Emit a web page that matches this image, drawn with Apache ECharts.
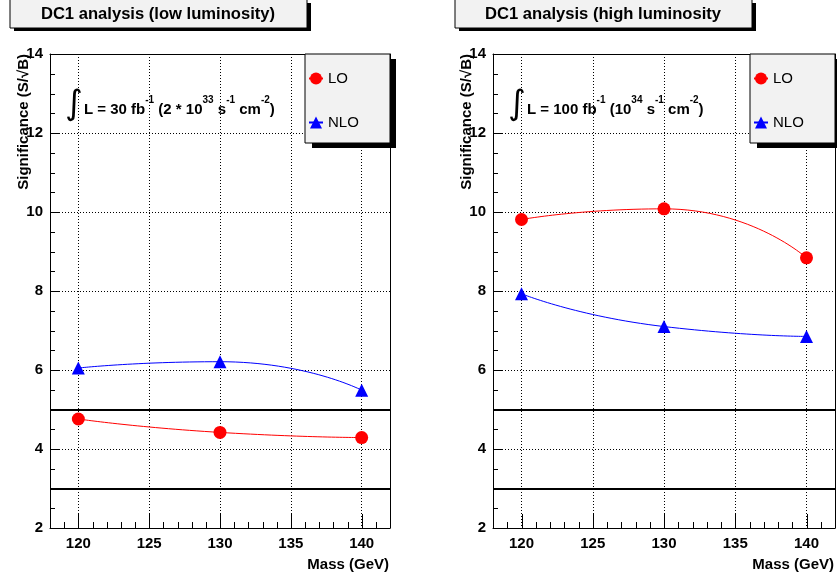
<!DOCTYPE html>
<html>
<head>
<meta charset="utf-8">
<title>DC1 analysis</title>
<script src="https://cdn.jsdelivr.net/npm/echarts@6/dist/echarts.min.js"></script>
<style>
html, body { margin: 0; padding: 0; background: #fff; }
#main { width: 837px; height: 578px; }
</style>
</head>
<body>
<div id="main"></div>
<script type="text/javascript">
// data
var masses = [120, 130, 140];
var loLow = [4.76, 4.42, 4.29];
var nloLow = [6.05, 6.21, 5.49];
var loHigh = [9.81, 10.08, 8.84];
var nloHigh = [7.93, 7.10, 6.85];
var thresholds = [5, 3];
var massTicks = [120, 125, 130, 135, 140];
var panelTitles = ['DC1 analysis (low luminosity)', 'DC1 analysis (high luminosity'];

// tick marks inside the frame (ROOT style)
var xMin = 118, xMax = 142, yMin = 2, yMax = 14;
var xMinorTicks = [], yMinorTicks = [], yMajorTicks = [];
for (var v = xMin; v <= xMax; v++) xMinorTicks.push(v);
for (var w = yMin; w <= yMax; w += 0.5) yMinorTicks.push(w);
for (var u = yMin; u <= yMax; u += 2) yMajorTicks.push(u);

var font = 'Liberation Sans, Arial, Helvetica, sans-serif';
var black = {color: '#000', width: 1};

function pairs(ys) {
    return masses.map(function (m, i) { return [m, ys[i]]; });
}

// one plot box per panel
var grids = [
    {left: 50, top: 54, width: 340, height: 474},
    {left: 493, top: 54, width: 342, height: 474}
];

function bareX(k, extra) {
    var a = {
        gridIndex: k, type: 'value', min: xMin, max: xMax, position: 'bottom',
        axisLine: {show: false}, axisLabel: {show: false}, splitLine: {show: false}, axisTick: {show: false}
    };
    for (var p in extra) a[p] = extra[p];
    return a;
}
function bareY(k, extra) {
    var a = {
        gridIndex: k, type: 'value', min: yMin, max: yMax, interval: 2, position: 'left',
        axisLine: {show: false}, axisLabel: {show: false}, splitLine: {show: false}, axisTick: {show: false}
    };
    for (var p in extra) a[p] = extra[p];
    return a;
}

var xAxes = [], yAxes = [], series = [], legends = [], graphics = [];

grids.forEach(function (g, k) {
    xAxes.push(bareX(k, {
        axisLine: {show: true, onZero: false, lineStyle: black},
        axisLabel: {customValues: massTicks, color: '#000', fontWeight: 'bold', fontSize: 15, fontFamily: font, margin: 8},
        splitLine: {show: true, lineStyle: {color: '#000', type: [1, 2], width: 1}}
    }));
    // top edge of the frame
    xAxes.push(bareX(k, {position: 'top', axisLine: {show: true, onZero: false, lineStyle: black}}));

    yAxes.push(bareY(k, {
        axisLine: {show: true, onZero: false, lineStyle: black},
        axisLabel: {color: '#000', fontWeight: 'bold', fontSize: 15, fontFamily: font, margin: 7},
        splitLine: {show: true, lineStyle: {color: '#000', type: [1, 2], width: 1}}
    }));
    // right edge of the frame
    yAxes.push(bareY(k, {position: 'right', axisLine: {show: true, onZero: false, lineStyle: black}}));

    var lo = k === 0 ? loLow : loHigh;
    var nlo = k === 0 ? nloLow : nloHigh;
    series.push({
        name: 'LO', type: 'line', xAxisIndex: 2 * k, yAxisIndex: 2 * k,
        data: pairs(lo), smooth: 0.6, symbol: 'circle', symbolSize: 13,
        itemStyle: {color: '#ff0000'}, lineStyle: {color: '#ff0000', width: 1},
        markLine: {
            silent: true, symbol: 'none', label: {show: false},
            lineStyle: {color: '#000', width: 2, type: 'solid'},
            data: thresholds.map(function (v) { return {yAxis: v}; })
        },
        z: 3
    });
    series.push({
        name: 'NLO', type: 'line', xAxisIndex: 2 * k, yAxisIndex: 2 * k,
        data: pairs(nlo), smooth: 0.6, symbol: 'triangle', symbolSize: 13,
        itemStyle: {color: '#0000ff'}, lineStyle: {color: '#0000ff', width: 1},
        z: 3
    });

    var right = g.left + g.width;
    var bx = right - 85;
    legends.push({
        data: ['LO', 'NLO'], orient: 'vertical', left: bx + 3, top: 71, padding: 0,
        itemGap: 29, itemWidth: 14, itemHeight: 15, z: 10,
        textStyle: {color: '#000', fontSize: 15, fontFamily: font},
        selectedMode: false
    });

    // legend box with shadow
    graphics.push({type: 'rect', shape: {x: bx + 7, y: 59, width: 84, height: 89}, style: {fill: '#000'}, z: 5});
    graphics.push({type: 'rect', shape: {x: bx, y: 54, width: 85, height: 89}, style: {fill: '#f2f2f2', stroke: '#000', lineWidth: 1}, z: 6});

    // title box with shadow
    var tx = k === 0 ? 10 : 455;
    graphics.push({type: 'rect', shape: {x: tx + 4, y: 3, width: 297, height: 28}, style: {fill: '#000'}, z: 5});
    graphics.push({type: 'rect', shape: {x: tx, y: -1, width: 297, height: 29}, style: {fill: '#f2f2f2', stroke: '#000', lineWidth: 1}, z: 6});
    graphics.push({type: 'text', x: tx + 148, y: 14, z: 7,
        style: {text: panelTitles[k], fill: '#000', font: 'bold 16.6px ' + font, align: 'center', verticalAlign: 'middle'}});

    // axis titles
    graphics.push({type: 'text', x: g.left - 26, y: 54, rotation: Math.PI / 2, z: 7,
        style: {text: 'Significance (S/\u221AB)', fill: '#000', font: 'bold 15px ' + font, align: 'right', verticalAlign: 'middle'}});
    graphics.push({type: 'text', x: right - 1, y: 565, z: 7,
        style: {text: 'Mass (GeV)', fill: '#000', font: 'bold 15px ' + font, align: 'right', verticalAlign: 'middle'}});

    // luminosity note
    var ax = g.left + 24;
    graphics.push({type: 'text', x: ax, y: 105, z: 7,
        style: {text: '\u222B', fill: '#000', font: '34px DejaVu Sans', align: 'center', verticalAlign: 'middle'}});
    var note = k === 0
        ? '{b|L = 30 fb}{s|-1}{b| (2 * 10}{s|33}{b| s}{s|-1}{b| cm}{s|-2}{b|)}'
        : '{b|L = 100 fb}{s|-1}{b| (10}{s|34}{b| s}{s|-1}{b| cm}{s|-2}{b|)}';
    graphics.push({type: 'text', x: ax + 10, y: 106, z: 7,
        style: {text: note, align: 'left', verticalAlign: 'middle',
            rich: {
                b: {fill: '#000', fontWeight: 'bold', fontSize: 15, fontFamily: font, lineHeight: 22, verticalAlign: 'bottom'},
                s: {fill: '#000', fontWeight: 'bold', fontSize: 10, fontFamily: font, lineHeight: 10, verticalAlign: 'top'}
            }}});
});

var chart = echarts.init(document.getElementById('main'));
chart.setOption({
    backgroundColor: '#fff',
    animation: false,
    grid: grids,
    xAxis: xAxes,
    yAxis: yAxes,
    legend: legends,
    series: series,
    graphic: graphics
});

// inward ticks, placed through the axis scales once the grids exist
var ticks = [];
function tick(x1, y1, x2, y2) {
    ticks.push({type: 'line', z: 8, silent: true,
        shape: {x1: x1, y1: y1, x2: x2, y2: y2},
        style: {stroke: '#000', lineWidth: 1}});
}
grids.forEach(function (g, k) {
    var finder = {xAxisIndex: 2 * k, yAxisIndex: 2 * k};
    function px(x, y) { return chart.convertToPixel(finder, [x, y]); }
    xMinorTicks.forEach(function (t) {
        var p = px(t, yMin), x = Math.round(p[0]) + 0.5;
        tick(x, p[1], x, p[1] - 6);
    });
    massTicks.forEach(function (t) {
        var p = px(t, yMin), x = Math.round(p[0]) + 0.5;
        tick(x, p[1], x, p[1] - 14);
    });
    yMinorTicks.forEach(function (t) {
        var p = px(xMin, t), y = Math.round(p[1]) + 0.5;
        tick(p[0], y, p[0] + 5, y);
    });
    yMajorTicks.forEach(function (t) {
        var p = px(xMin, t), y = Math.round(p[1]) + 0.5;
        tick(p[0], y, p[0] + 9, y);
    });
});
chart.setOption({graphic: graphics.concat(ticks)});
</script>
</body>
</html>
